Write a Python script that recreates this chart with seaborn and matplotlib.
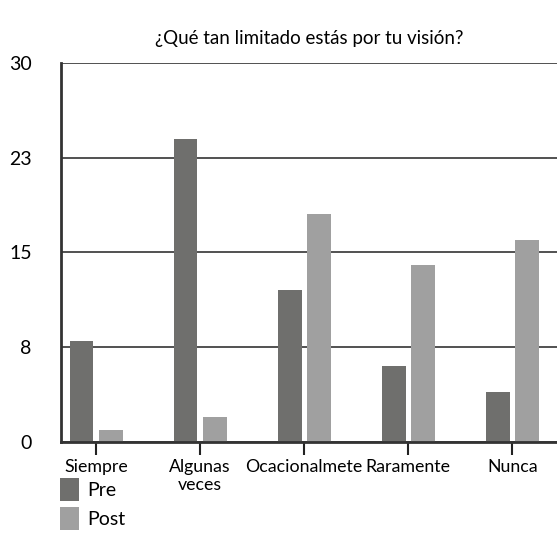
import pandas as pd
import matplotlib
matplotlib.use("Agg")
from matplotlib import pyplot as plt
import seaborn as sns

categories = ["Siempre", "Algunas\nveces", "Ocacionalmete", "Raramente", "Nunca"]
pre = [8, 24, 12, 6, 4]
post = [1, 2, 18, 14, 16]
ytick_pos = [0, 7.5, 15, 22.5, 30]
ytick_labels = ["0", "8", "15", "23", "30"]

df = pd.DataFrame({
    "categoria": categories * 2,
    "valor": pre + post,
    "grupo": ["Pre"] * len(pre) + ["Post"] * len(post),
})

sns.set_style("white")
plt.rcParams["font.family"] = ["Lato", "DejaVu Sans"]
plt.rcParams["text.color"] = "black"
plt.rcParams["xtick.color"] = "black"
plt.rcParams["ytick.color"] = "black"

fig = plt.figure(figsize=(5.57, 5.52), dpi=100)
ax = fig.add_axes([0.1095, 0.199, 0.8905, 0.6874])

sns.barplot(data=df, x="categoria", y="valor", hue="grupo", ax=ax,
            palette={"Pre": "#6f6f6d", "Post": "#a0a0a0"},
            width=0.56, gap=0.18, saturation=1, linewidth=0, legend=True)

ax.set_ylim(0, 30)
ax.set_xlim(-0.337, 4.43)
ax.set_yticks(ytick_pos)
ax.set_yticklabels(ytick_labels)
ax.yaxis.grid(True, color="#333333", linewidth=1.2)
ax.set_axisbelow(True)
ax.tick_params(axis="y", length=17, width=1.2, color="#333333", labelsize=14, pad=4)
ax.tick_params(axis="x", length=9, width=1.5, color="#222222", labelsize=12.8, pad=3, bottom=True)
for lbl in ax.get_xticklabels():
    lbl.set_linespacing(1.15)
for side in ["top", "right"]:
    ax.spines[side].set_visible(False)
for side in ["left", "bottom"]:
    ax.spines[side].set_color("#333333")
    ax.spines[side].set_linewidth(2)
ax.set_xlabel("")
ax.set_ylabel("")

fig.text(0.555, 0.93, "¿Qué tan limitado estás por tu visión?", ha="center", va="center", fontsize=13.5)

handles, labels = ax.get_legend_handles_labels()
ax.get_legend().remove()
fig.legend(handles, labels, loc="upper left", bbox_to_anchor=(0.093, 0.148),
           frameon=False, fontsize=14, handlelength=1.0, handleheight=1.4,
           handletextpad=0.4, labelspacing=0.35, borderaxespad=0)

fig.savefig("out.png", dpi=100)
